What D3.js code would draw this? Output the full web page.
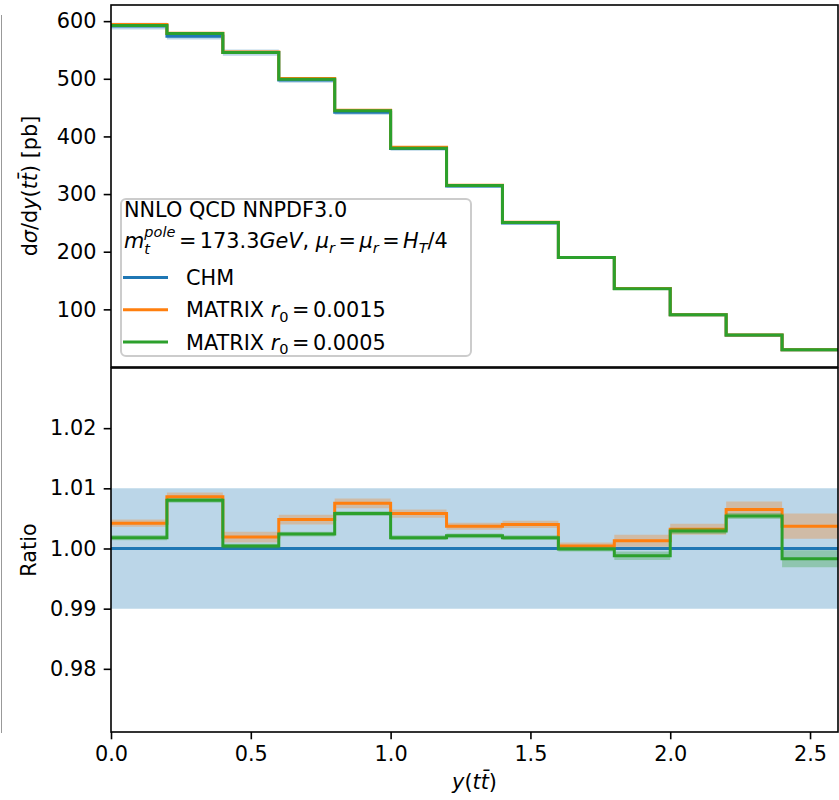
<!DOCTYPE html>
<html>
<head>
<meta charset="utf-8">
<script src="https://cdn.jsdelivr.net/npm/d3@7"></script>
<style>
  html, body { margin: 0; padding: 0; background: #fff; }
  svg { display: block; font-family: "DejaVu Sans", sans-serif; }
  svg text { white-space: pre; }
</style>
</head>
<body>
<svg id="chart" width="839" height="800"></svg>
<script>
// ---------------- data ----------------
const binEdges = [0.0, 0.2, 0.4, 0.6, 0.8, 1.0, 1.2, 1.4, 1.6, 1.8, 2.0, 2.2, 2.4, 2.6];
const chmXsec      = [591.5, 574.0, 545.5, 498.0, 442.0, 379.0, 314.0, 250.0, 190.0, 136.0, 90.5, 55.0, 30.0];
const matrix15Xsec = [594.0, 579.0, 546.5, 500.4, 445.3, 381.2, 315.2, 251.0, 190.1, 136.2, 90.8, 55.4, 30.1];
const matrix05Xsec = [592.6, 578.6, 545.7, 499.2, 444.5, 379.7, 314.7, 250.5, 190.0, 135.8, 90.8, 55.3, 29.95];
const chmRelErr = 0.01;
const chmRatio        = [1, 1, 1, 1, 1, 1, 1, 1, 1, 1, 1, 1, 1];
const matrix15Ratio   = [1.0042, 1.0086, 1.0019, 1.0048, 1.0075, 1.0058, 1.0037, 1.0040, 1.0004, 1.0013, 1.0032, 1.0065, 1.0037];
const matrix15RatioErr= [0.0006, 0.0007, 0.0009, 0.0008, 0.0008, 0.0007, 0.0006, 0.0006, 0.0006, 0.0010, 0.0009, 0.0013, 0.0021];
const matrix05Ratio   = [1.0018, 1.0080, 1.0004, 1.0024, 1.0058, 1.0018, 1.0021, 1.0018, 0.9999, 0.9988, 1.0029, 1.0054, 0.9983];
const matrix05RatioErr= [0.00045, 0.0004, 0.0004, 0.0004, 0.0004, 0.0004, 0.0004, 0.0004, 0.0004, 0.0007, 0.0005, 0.0005, 0.0014];
const topTicks = [100, 200, 300, 400, 500, 600];
const ratioTicks = [0.98, 0.99, 1.00, 1.01, 1.02];
const xTicks = [0.0, 0.5, 1.0, 1.5, 2.0, 2.5];
const seriesNames = ["CHM", "MATRIX", "MATRIX"];
const legendTitle1 = "NNLO QCD NNPDF3.0";

// ---------------- layout ----------------
const C = { blue: "#1f77b4", orange: "#ff7f0e", green: "#2ca02c" };
const FS = 20.8;
const L = 111, R = 838;
const topY0 = 5, topY1 = 367, botY0 = 368, botY1 = 732;
const svg = d3.select("#chart");

const x = d3.scaleLinear().domain([0, 2.6]).range([L, R]);
const yTop = d3.scaleLinear().domain([0, 628]).range([topY1, topY0]);
const yBot = d3.scaleLinear().domain([0.9695, 1.03]).range([botY1, botY0]);

// thin frame line of neighbouring (cropped) panel
svg.append("line").attr("x1", 1.5).attr("x2", 1.5).attr("y1", 15).attr("y2", 733)
  .attr("stroke", "#999").attr("stroke-width", 1);

const defs = svg.append("defs");
defs.append("clipPath").attr("id", "clipTop").append("rect")
  .attr("x", L).attr("y", topY0).attr("width", R - L).attr("height", topY1 - topY0);
defs.append("clipPath").attr("id", "clipBot").append("rect")
  .attr("x", L).attr("y", botY0).attr("width", R - L).attr("height", botY1 - botY0);

function stepPts(vals) {
  const pts = vals.map((v, i) => [binEdges[i], v]);
  pts.push([binEdges[binEdges.length - 1], vals[vals.length - 1]]);
  return pts;
}
function bandPts(lo, hi) {
  const pts = lo.map((v, i) => ({ x: binEdges[i], lo: v, hi: hi[i] }));
  pts.push({ x: binEdges[binEdges.length - 1], lo: lo[lo.length - 1], hi: hi[hi.length - 1] });
  return pts;
}

function drawPanel(g, yS, series) {
  const line = d3.line().x(d => x(d[0])).y(d => yS(d[1])).curve(d3.curveStepAfter);
  const area = d3.area().x(d => x(d.x)).y0(d => yS(d.lo)).y1(d => yS(d.hi)).curve(d3.curveStepAfter);
  series.forEach(s => {
    g.append("path").datum(bandPts(s.lo, s.hi)).attr("d", area)
      .attr("fill", s.color).attr("fill-opacity", 0.3).attr("stroke", "none");
    g.append("path").datum(stepPts(s.vals)).attr("d", line)
      .attr("fill", "none").attr("stroke", s.color).attr("stroke-width", 3)
      .attr("stroke-linejoin", "miter").attr("stroke-linecap", "butt");
  });
}

// top panel
const gTop = svg.append("g").attr("clip-path", "url(#clipTop)");
drawPanel(gTop, yTop, [
  { color: C.blue, vals: chmXsec,
    lo: chmXsec.map(v => v * (1 - chmRelErr)), hi: chmXsec.map(v => v * (1 + chmRelErr)) },
  { color: C.orange, vals: matrix15Xsec,
    lo: matrix15Xsec.map((v, i) => v * (1 - matrix15RatioErr[i])), hi: matrix15Xsec.map((v, i) => v * (1 + matrix15RatioErr[i])) },
  { color: C.green, vals: matrix05Xsec,
    lo: matrix05Xsec.map((v, i) => v * (1 - matrix05RatioErr[i])), hi: matrix05Xsec.map((v, i) => v * (1 + matrix05RatioErr[i])) }
]);

// bottom panel
const gBot = svg.append("g").attr("clip-path", "url(#clipBot)");
drawPanel(gBot, yBot, [
  { color: C.blue, vals: chmRatio,
    lo: chmRatio.map(v => v - chmRelErr), hi: chmRatio.map(v => v + chmRelErr) },
  { color: C.orange, vals: matrix15Ratio,
    lo: matrix15Ratio.map((v, i) => v - matrix15RatioErr[i]), hi: matrix15Ratio.map((v, i) => v + matrix15RatioErr[i]) },
  { color: C.green, vals: matrix05Ratio,
    lo: matrix05Ratio.map((v, i) => v - matrix05RatioErr[i]), hi: matrix05Ratio.map((v, i) => v + matrix05RatioErr[i]) }
]);

// frames
[[topY0, topY1], [botY0, botY1]].forEach(([a, b]) => {
  svg.append("rect").attr("x", L).attr("y", a).attr("width", R - L).attr("height", b - a)
    .attr("fill", "none").attr("stroke", "#000").attr("stroke-width", 1.6);
});

// axes
function styleAxis(g) {
  g.select(".domain").remove();
  g.selectAll(".tick line").attr("stroke", "#000").attr("stroke-width", 1.6);
  g.selectAll(".tick text").attr("font-size", FS).attr("fill", "#000")
    .attr("font-family", "DejaVu Sans");
}
const axTop = svg.append("g").attr("transform", `translate(${L},0)`)
  .call(d3.axisLeft(yTop).tickValues(topTicks).tickFormat(d3.format("d")).tickSize(7.3).tickPadding(7.3));
styleAxis(axTop);
const axBot = svg.append("g").attr("transform", `translate(${L},0)`)
  .call(d3.axisLeft(yBot).tickValues(ratioTicks).tickFormat(d3.format(".2f")).tickSize(7.3).tickPadding(7.3));
styleAxis(axBot);
const axX = svg.append("g").attr("transform", `translate(0,${botY1})`)
  .call(d3.axisBottom(x).tickValues(xTicks).tickFormat(d3.format(".1f")).tickSize(7.3).tickPadding(7.3));
styleAxis(axX);

// axis labels
const tl = svg.append("text").attr("transform", `translate(37,${(topY0 + topY1) / 2}) rotate(-90)`)
  .attr("text-anchor", "middle").attr("font-size", FS);
tl.append("tspan").text("d");
tl.append("tspan").attr("font-style", "italic").text("σ");
tl.append("tspan").text("/d");
tl.append("tspan").attr("font-style", "italic").text("y");
tl.append("tspan").text("(");
tl.append("tspan").attr("font-style", "italic").text("tt\u0304");
tl.append("tspan").text(") [pb]");

svg.append("text").attr("transform", `translate(36,${(botY0 + botY1) / 2}) rotate(-90)`)
  .attr("text-anchor", "middle").attr("font-size", FS).text("Ratio");

const xl = svg.append("text").attr("x", (L + R) / 2).attr("y", 789)
  .attr("text-anchor", "middle").attr("font-size", FS);
xl.append("tspan").attr("font-style", "italic").text("y");
xl.append("tspan").text("(");
xl.append("tspan").attr("font-style", "italic").text("tt\u0304");
xl.append("tspan").text(")");

// legend
const lg = svg.append("g");
lg.append("rect").attr("x", 121).attr("y", 199).attr("width", 350).attr("height", 157)
  .attr("rx", 5).attr("fill", "#fff").attr("fill-opacity", 0.8)
  .attr("stroke", "#cccccc").attr("stroke-width", 2);
lg.append("text").attr("x", 124).attr("y", 216.5).attr("font-size", FS).text(legendTitle1);

// mathtext-like line: each line is ONE text element made of positioned tspans
function placeMath(g, x0, y0, pieces) {
  const txt = g.append("text").attr("x", x0).attr("y", y0).attr("font-size", FS);
  let cx = x0;
  const measure = (sel) => sel.node().getComputedTextLength();
  pieces.forEach(p => {
    if (p.gapL) cx += p.gapL;
    if (p.supsub) {
      const s1 = txt.append("tspan").attr("x", cx).attr("y", y0 - 11.5).attr("font-size", FS * 0.7)
        .attr("font-style", "italic").text(p.supsub[0]);
      const s2 = txt.append("tspan").attr("x", cx).attr("y", y0 + 5.5).attr("font-size", FS * 0.7)
        .attr("font-style", "italic").text(p.supsub[1]);
      cx += Math.max(measure(s1), measure(s2));
    } else {
      const t = txt.append("tspan").attr("x", cx).attr("y", y0 + (p.sub ? 4.5 : 0))
        .attr("font-size", p.sub ? FS * 0.7 : FS)
        .attr("font-style", p.it ? "italic" : "normal").text(p.t);
      cx += measure(t);
    }
    if (p.gapR) cx += p.gapR;
  });
}
const rel = 3.5;
const sp = 6.6;
placeMath(lg, 124, 248, [
  { t: "m", it: true },
  { supsub: ["pole", "t"] },
  { t: "=", gapL: rel, gapR: rel },
  { t: "173.3" },
  { t: "GeV", it: true },
  { t: ",", gapR: sp },
  { t: "μ", it: true },
  { t: "r", it: true, sub: true },
  { t: "=", gapL: rel, gapR: rel },
  { t: "μ", it: true },
  { t: "r", it: true, sub: true },
  { t: "=", gapL: rel, gapR: rel },
  { t: "H", it: true },
  { t: "T", it: true, sub: true },
  { t: "/4" }
]);

const entries = [
  { color: C.blue, parts: [{ t: seriesNames[0] }] },
  { color: C.orange, parts: [{ t: seriesNames[1], gapR: sp }, { t: "r", it: true }, { t: "0", sub: true }, { t: "=", gapL: rel, gapR: rel }, { t: "0.0015" }] },
  { color: C.green, parts: [{ t: seriesNames[2], gapR: sp }, { t: "r", it: true }, { t: "0", sub: true }, { t: "=", gapL: rel, gapR: rel }, { t: "0.0005" }] }
];
entries.forEach((e, i) => {
  const cy = 277.5 + i * 32.2;
  lg.append("line").attr("x1", 123).attr("x2", 168).attr("y1", cy).attr("y2", cy)
    .attr("stroke", e.color).attr("stroke-width", 3);
  placeMath(lg, 186, cy + 7.6, e.parts);
});
</script>
</body>
</html>
